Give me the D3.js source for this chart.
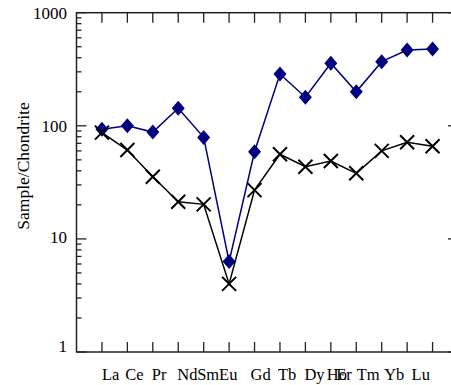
<!DOCTYPE html>
<html><head><meta charset="utf-8">
<script src="https://cdn.jsdelivr.net/npm/d3@7"></script>
<style>body{margin:0;background:#fff;} svg{display:block;} text{font-family:"Liberation Serif","Times New Roman",Times,serif;}</style>
</head><body>
<svg id="c" width="451" height="385"></svg>
<script>
const elements = ["La","Ce","Pr","Nd","Sm","Eu","Gd","Tb","Dy","Ho","Er","Tm","Yb","Lu"];
const sampleA = [93, 100, 88, 143, 79, 6.3, 59, 287, 179, 357, 200, 369, 468, 478];
const sampleB = [87, 61, 35.5, 21.3, 20.2, 4.0, 27, 56, 43.5, 48.8, 38, 60, 71.5, 66];
const yTickLabels = [1, 10, 100, 1000];
const yAxisTitle = "Sample/Chondrite";

// layout: horizontal nudges of category labels (px), as placed in the original
const labelShift = [0, -2, -1, -1, -6.5, -10, -4, -2, -1, -4, -20, -25, -23, -21];

const svg = d3.select("#c");
const L = 76.5, R = 458, T = 12.7, B = 352;
const x = d3.scaleLinear().domain([0, elements.length + 1]).range([L, R]);
const y = d3.scaleLog().domain([1, 1000]).range([B, T]);
const axisColor = "#222";

const minor = [];
for (let d = 1; d < 1000; d *= 10) for (let k = 2; k <= 9; k++) minor.push(d * k);
const g = svg.append("g").attr("stroke", axisColor).attr("stroke-width", 1.3);
minor.forEach(v => {
  g.append("line").attr("x1", L).attr("x2", L + 5).attr("y1", y(v)).attr("y2", y(v));
  g.append("line").attr("x1", R).attr("x2", R - 5).attr("y1", y(v)).attr("y2", y(v));
});
yTickLabels.forEach(v => {
  g.append("line").attr("x1", L).attr("x2", L + 10).attr("y1", y(v)).attr("y2", y(v));
  g.append("line").attr("x1", R).attr("x2", R - 10).attr("y1", y(v)).attr("y2", y(v));
});
elements.forEach((e, i) => {
  g.append("line").attr("x1", x(i + 1)).attr("x2", x(i + 1)).attr("y1", B).attr("y2", B - 10);
  g.append("line").attr("x1", x(i + 1)).attr("x2", x(i + 1)).attr("y1", T).attr("y2", T + 10);
});
svg.append("rect").attr("x", L).attr("y", T).attr("width", R - L).attr("height", B - T)
  .attr("fill", "none").attr("stroke", axisColor).attr("stroke-width", 1.5);

svg.append("g").selectAll("text").data(yTickLabels).join("text")
  .attr("x", 67).attr("y", d => y(d) + 6 + (d === 1 ? -6 : d === 10 ? -2 : 0))
  .attr("text-anchor", "end")
  .attr("font-size", 17).attr("fill", "#000")
  .text(d => d);

svg.append("g").selectAll("text").data(elements).join("text")
  .attr("x", (d, i) => x(i + 1) + labelShift[i]).attr("y", 380)
  .attr("text-anchor", "start")
  .attr("font-size", 16.5).attr("fill", "#000")
  .text(d => d);

svg.append("text").attr("transform", "translate(29,166) rotate(-90)")
  .attr("text-anchor", "middle").attr("font-size", 17.5)
  .attr("fill", "#000").text(yAxisTitle);

const line = d3.line().x((d, i) => x(i + 1)).y(d => y(d));

svg.append("path").datum(sampleA).attr("d", line).attr("fill", "none")
  .attr("stroke", "#000080").attr("stroke-width", 1.5);
svg.append("g").selectAll("path").data(sampleA).join("path")
  .attr("transform", (d, i) => `translate(${x(i + 1)},${y(d)})`)
  .attr("d", "M0,-7.5L6.5,0L0,7.5L-6.5,0Z").attr("fill", "#000080");

svg.append("path").datum(sampleB).attr("d", line).attr("fill", "none")
  .attr("stroke", "#000").attr("stroke-width", 1.5);
svg.append("g").selectAll("path").data(sampleB).join("path")
  .attr("transform", (d, i) => `translate(${x(i + 1)},${y(d)})`)
  .attr("d", "M-7,-7L7,7M-7,7L7,-7").attr("stroke", "#000").attr("stroke-width", 2).attr("fill", "none");
</script>
</body></html>
